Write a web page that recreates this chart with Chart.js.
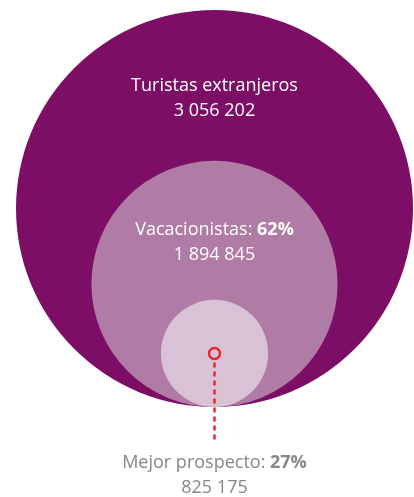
<!DOCTYPE html>
<html>
<head>
<meta charset="utf-8">
<script src="https://cdn.jsdelivr.net/npm/chart.js@4.4.1/dist/chart.umd.min.js"></script>
<style>
  html, body { margin: 0; padding: 0; background: #fff; }
  #wrap { width: 414px; height: 497px; position: relative; }
</style>
</head>
<body>
<div id="wrap"><canvas id="nestedChart"></canvas></div>
<script>
// Nested circles: radius is proportional to the count
const labels = ['Turistas extranjeros', 'Vacacionistas', 'Mejor prospecto'];
const counts = [3056202, 1894845, 825175];
const shares = ['', '62%', '27%'];
const colors = ['#7c0f65', '#b07ca6', '#d9c2d6'];

const FONT = '"Open Sans", Lato, sans-serif';
const SIZE = 18;
const pxPerUnit = 198.5 / counts[0];
const leaderEnd = -33 / pxPerUnit;

const fmt = (n) => String(n).replace(/\B(?=(\d{3})+(?!\d))/g, ' ');

const labelPlugin = {
    id: 'labels',
    afterDatasetsDraw(chart) {
        const { ctx, scales: { x, y } } = chart;
        const cx = x.getPixelForValue(0);
        const drawLine = (plain, bold, baseline, color) => {
            ctx.save();
            ctx.fillStyle = color;
            ctx.textBaseline = 'alphabetic';
            ctx.textAlign = 'left';
            ctx.font = SIZE + 'px ' + FONT;
            const w1 = ctx.measureText(plain).width;
            ctx.font = 'bold ' + SIZE + 'px ' + FONT;
            const w2 = bold ? ctx.measureText(bold).width : 0;
            const start = cx - (w1 + w2) / 2;
            ctx.font = SIZE + 'px ' + FONT;
            ctx.fillText(plain, start, baseline);
            if (bold) {
                ctx.font = 'bold ' + SIZE + 'px ' + FONT;
                ctx.fillText(bold, start + w1, baseline);
            }
            ctx.restore();
        };

        const outerTop = y.getPixelForValue(counts[0] * 2);
        drawLine(labels[0], '', outerTop + 81, '#fff');
        drawLine(fmt(counts[0]), '', outerTop + 106, '#fff');

        const midTop = y.getPixelForValue(counts[1] * 2);
        drawLine(labels[1] + ': ', shares[1], midTop + 74, '#fff');
        drawLine(fmt(counts[1]), '', midTop + 99, '#fff');

        const leaderBottom = y.getPixelForValue(leaderEnd);
        drawLine(labels[2] + ': ', shares[2], leaderBottom + 28, '#878787');
        drawLine(fmt(counts[2]), '', leaderBottom + 53, '#878787');
    }
};

const chart = new Chart(document.getElementById('nestedChart').getContext('2d'), {
    type: 'bubble',
    data: {
        datasets: [
            {
                type: 'scatter',
                data: [{ x: 0, y: counts[2] }],
                pointRadius: 5.5,
                borderWidth: 2.5,
                borderColor: '#e8262d',
                backgroundColor: colors[2],
                order: 0
            },
            {
                type: 'line',
                data: [{ x: 0, y: counts[2] }, { x: 0, y: leaderEnd }],
                borderColor: '#e8262d',
                borderWidth: 2.5,
                borderDash: [5, 4],
                pointRadius: 0,
                order: 1
            },
            {
                type: 'bubble',
                // circles sit on y = 0, so each centre is at y = its own radius
                data: counts.map(v => ({ x: 0, y: v })),
                backgroundColor: colors,
                borderWidth: 0,
                order: 2
            }
        ]
    },
    options: {
        responsive: true,
        maintainAspectRatio: false,
        animation: false,
        events: [],
        layout: { padding: 0, autoPadding: false },
        plugins: {
            legend: { display: false },
            tooltip: { enabled: false }
        },
        scales: {
            x: {
                type: 'linear',
                display: false,
                min: -214.5 / pxPerUnit,
                max: 199.5 / pxPerUnit
            },
            y: {
                type: 'linear',
                display: false,
                min: -90 / pxPerUnit,
                max: 407 / pxPerUnit
            }
        }
    },
    plugins: [labelPlugin]
});

// bubble radius is in pixels, so take it from the laid out x scale
const sx = chart.scales.x;
chart.data.datasets[2].data = counts.map(v => ({
    x: 0,
    y: v,
    r: sx.getPixelForValue(v) - sx.getPixelForValue(0)
}));
chart.update();
</script>
</body>
</html>
